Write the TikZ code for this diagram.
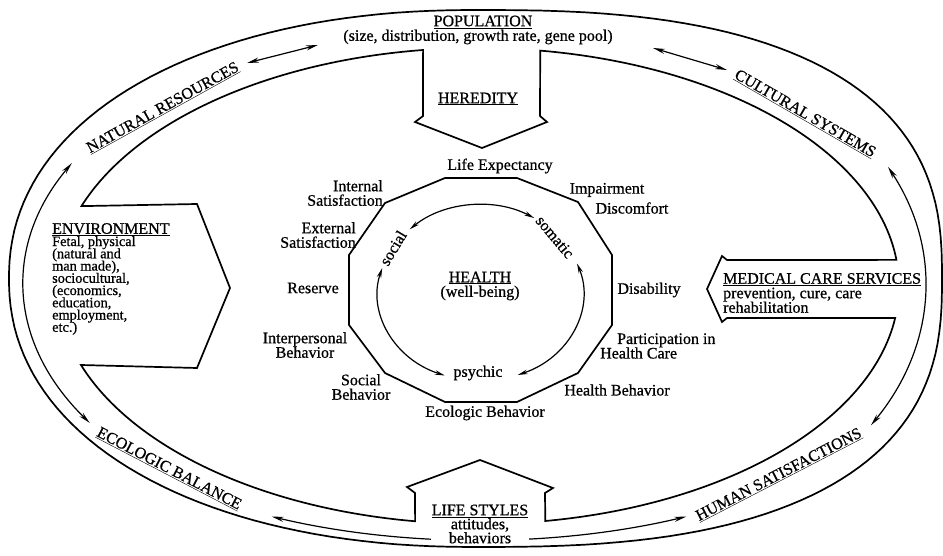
\documentclass[tikz,border=0pt]{standalone}
\usepackage{fontspec}
\setmainfont{Liberation Serif}[FakeBold=0.7]
\usetikzlibrary{arrows.meta}
\newcommand{\tightlines}{\lineskiplimit=-20pt\relax}
\begin{document}
\begin{tikzpicture}[x=1pt,y=1pt,
  lbl/.style={font=\fontsize{16}{14.5}\selectfont\tightlines, inner sep=0pt, align=center},
  band/.style={font=\fontsize{16}{15}\selectfont\tightlines, inner sep=0pt},
  heavy/.style={line width=1.7pt, line join=miter},
  dbl/.style={line width=1.2pt, {Stealth[length=12pt,width=5pt]}-{Stealth[length=12pt,width=5pt]}},
  sdbl/.style={line width=1.2pt, {Stealth[length=10pt,width=4.5pt]}-{Stealth[length=10pt,width=4.5pt]}},
]
\useasboundingbox (0,0) rectangle (943,555);
\fill[white] (0,0) rectangle (943,555);
% outer rounded oval (right half slightly fuller than the left)
\draw[heavy]
  plot[domain=-89.5:89.5, samples=90]
    ({475.5+466.5*sign(cos(\x))*abs(cos(\x))^(0.769)}, {276.5+268.5*sign(sin(\x))*abs(sin(\x))^(0.769)})
  -- plot[domain=90.5:269.5, samples=90]
    ({475.5+466.5*sign(cos(\x))*abs(cos(\x))^(0.93)}, {276.5+268.5*sign(sin(\x))*abs(sin(\x))^(0.93)})
  -- cycle;
% inner band with the four arrow shapes
\draw[heavy] (478,269) ++(6.3:421 and 238)
  arc[start angle=6.3,end angle=81.5,x radius=421,y radius=238]
  -- (540,439) -- (547,433) -- (482,407) -- (415,433) -- (423,439) -- (423.1,505)
  arc[start angle=97.5,end angle=160.4,x radius=421,y radius=238]
  -- (197,351) -- (230,267) -- (197,187) -- (81,190)
  arc[start angle=199.4,end angle=261.4,x radius=421,y radius=238]
  -- (415,62) -- (407,68) -- (480,95) -- (553,67) -- (545,62) -- (545.3,34)
  arc[start angle=279.2,end angle=352.3,x radius=421,y radius=238]
  -- (727,237) -- (722,233) -- (707,266) -- (722,299) -- (727,295) -- cycle;
% band arrows
\draw[dbl] (476,271.6) ++(153.4:452 and 268.7) arc[start angle=153.4,end angle=211.3,x radius=452,y radius=268.7];
\draw[dbl] (476,270.5) ++(23.4:449 and 296) arc[start angle=23.4,end angle=-28.4,x radius=449,y radius=296];
\draw[dbl] (479,275) ++(245.5:500 and 260) arc[start angle=245.5,end angle=294.5,x radius=500,y radius=260];
\coordinate (tla) at (247,492); \coordinate (tlb) at (318,510);
\coordinate (tra) at (653,507); \coordinate (trb) at (727,485);
\draw[dbl] (tla) -- (tlb);
\draw[dbl] (tra) -- (trb);
% dodecagon
\draw[heavy] (445,377) -- (517,377) -- (578,353) -- (612,300) -- (612,230) -- (578,182)
  -- (517,153) -- (445,153) -- (385,182) -- (349,230) -- (349,300) -- (385,352) -- cycle;
% health arcs
\draw[sdbl] (480.5,262) ++(133.7:102.5 and 88) arc[start angle=133.7,end angle=58.4,x radius=102.5,y radius=88];
\draw[sdbl] (480.5,262) ++(19.6:102.5 and 88) arc[start angle=19.6,end angle=-68.7,x radius=102.5,y radius=88];
\draw[sdbl] (480.5,262) ++(163.5:102.5 and 88) arc[start angle=163.5,end angle=249.6,x radius=102.5,y radius=88];
% band texts
\node[band] (pop) at (483,533) {\underline{POPULATION}};
\node[band] (popsub) at (478,518) {(size, distribution, growth rate, gene pool)};
\node[band] (her) at (478,456) {\underline{HEREDITY}};
\node[band, rotate=29] (nat) at (163,447) {\underline{NATURAL RESOURCES}};
\node[band, rotate=-30] (cul) at (805,441) {\underline{CULTURAL SYSTEMS}};
\node[band, rotate=-27.5] (eco) at (169,86) {\underline{ECOLOGIC BALANCE}};
\node[band, rotate=27.4] (hum) at (779,80) {\underline{HUMAN SATISFACTIONS}};
\node[band, anchor=west, align=left, font=\fontsize{14.3}{12.25}\selectfont\tightlines] (env) at (52,276)
  {{\fontsize{16}{12.25}\selectfont\underline{ENVIRONMENT}}\\Fetal, physical\\(natural and\\man made),\\sociocultural,\\(economics,\\education,\\employment,\\etc.)};
\node[band, anchor=west, align=left, font=\fontsize{16}{14.5}\selectfont\tightlines] (med) at (723,262)
  {\underline{MEDICAL CARE SERVICES}\\prevention, cure, care\\rehabilitation};
\node[band, align=center, fill=white, inner sep=1pt, font=\fontsize{16}{14}\selectfont\tightlines] (life) at (480,31)
  {\underline{LIFE STYLES}\\attitudes,\\behaviors};
% dodecagon labels
\node[lbl] (le) at (500,389) {Life Expectancy};
\node[lbl] (imp) at (607,365) {Impairment};
\node[lbl] (dis) at (632,347) {Discomfort};
\node[lbl] (dsb) at (649,265) {Disability};
\node[lbl, anchor=west, align=left] (par) at (600,209) {\hspace*{17pt}Participation in\\Health Care};
\node[lbl] (hb) at (617,165) {Health Behavior};
\node[lbl] (eb) at (485,142) {Ecologic Behavior};
\node[lbl] (sb) at (361,168) {Social\\Behavior};
\node[lbl] (ib) at (305,210) {Interpersonal\\Behavior};
\node[lbl] (res) at (313,267) {Reserve};
\node[lbl, anchor=east, align=right] (es) at (356,320) {External\\Satisfaction};
\node[lbl, anchor=east, align=right] (is) at (383,362) {Internal\\Satisfaction};
% health
\node[lbl] (hl) at (480,277) {\underline{HEALTH}};
\node[lbl] (wb) at (480,262) {(well-being)};
\node[lbl, rotate=59] (soc) at (393,307) {social};
\node[lbl, rotate=-50] (som) at (555,318) {somatic};
\node[lbl] (psy) at (478,182) {psychic};
\end{tikzpicture}
\end{document}
